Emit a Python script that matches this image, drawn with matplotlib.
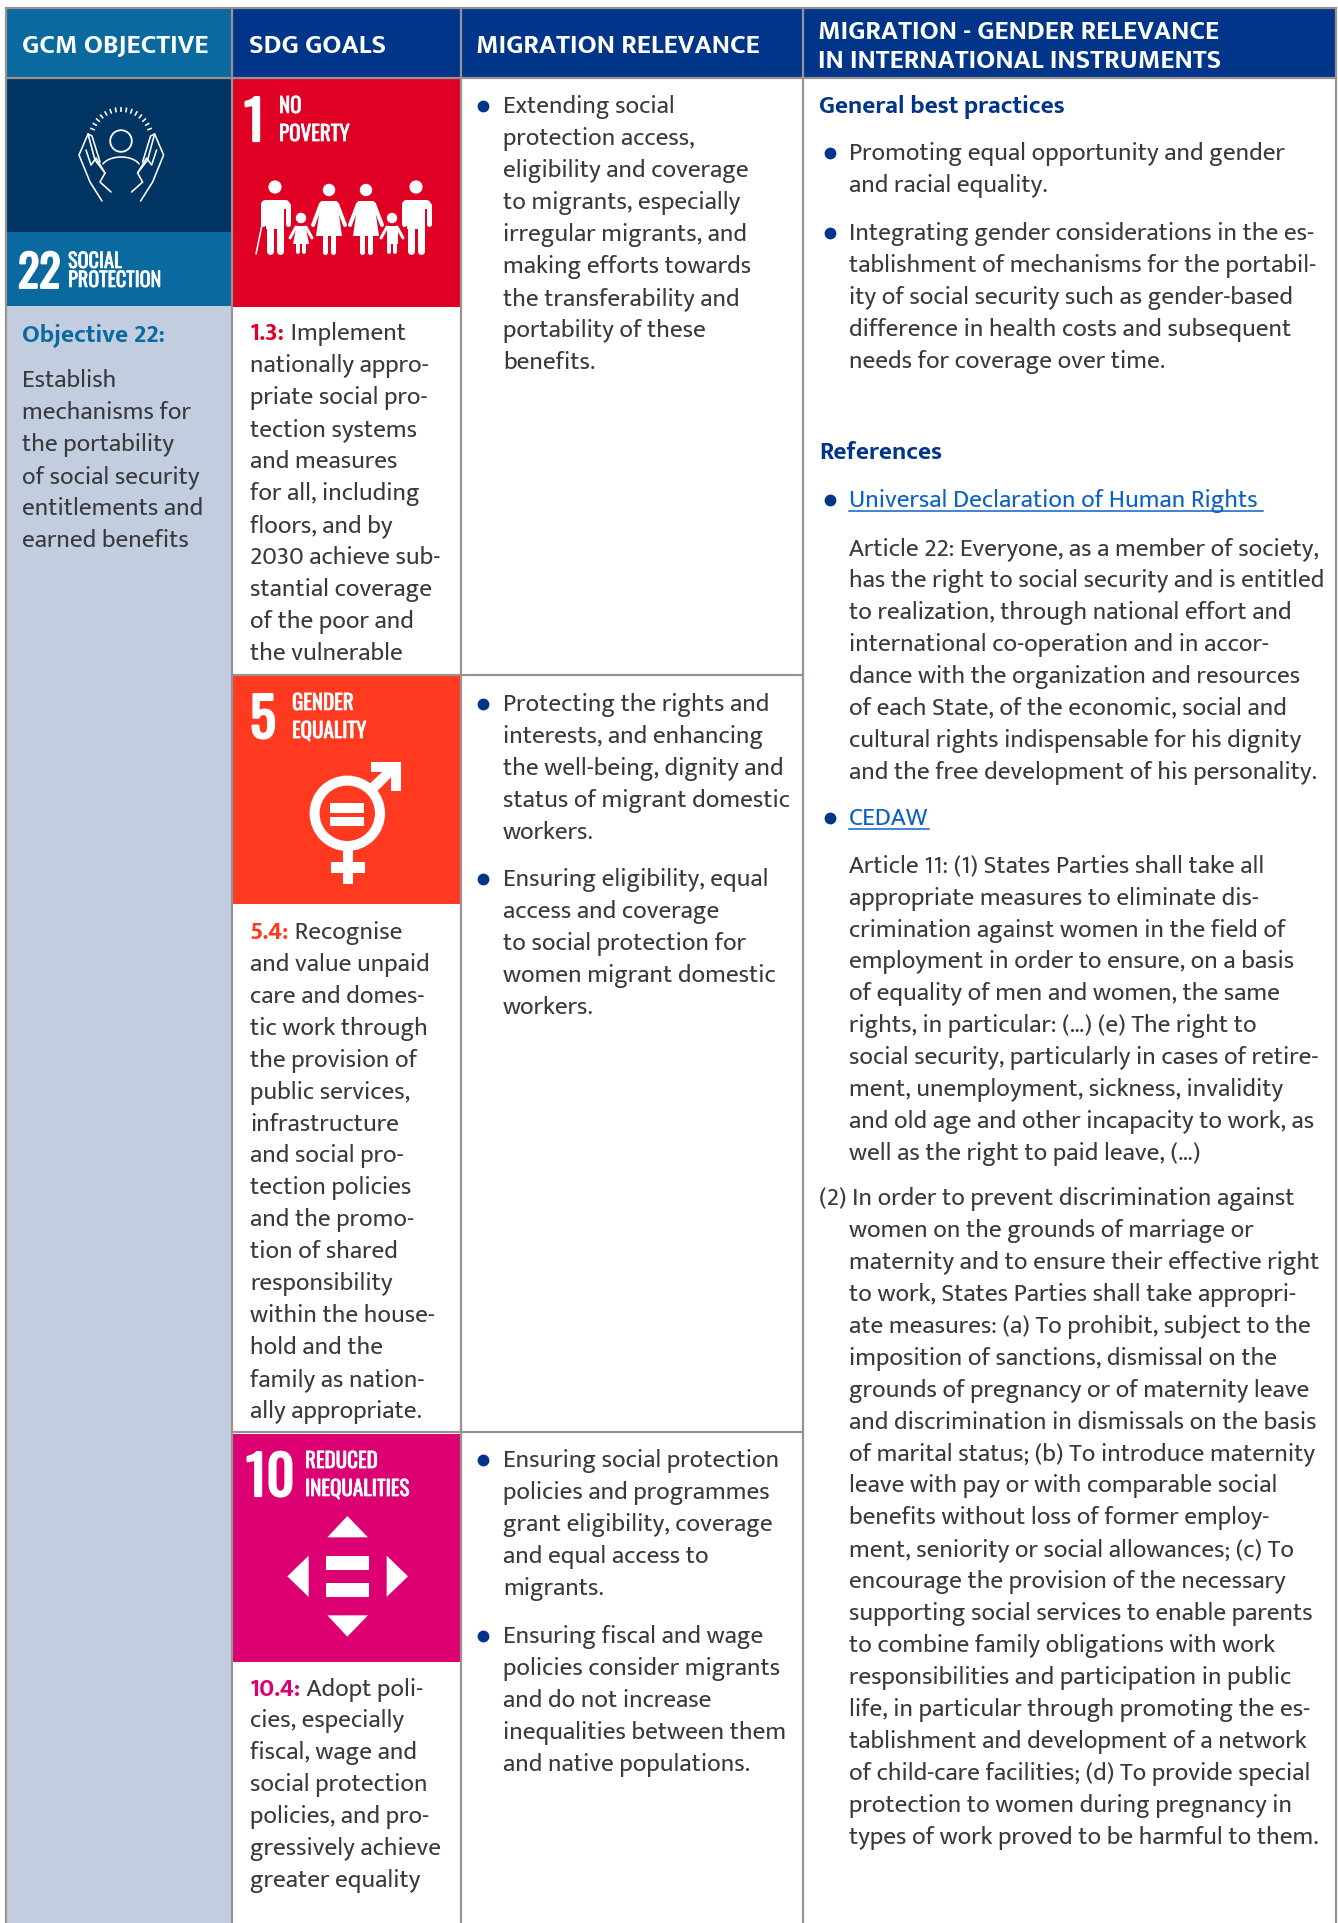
import matplotlib
matplotlib.use("Agg")
import matplotlib.pyplot as plt
from matplotlib.patches import Rectangle, Circle, Polygon
from matplotlib.patheffects import withStroke
import numpy as np

W, H = 1338, 1923
S = 1338 / 1091  # the line positions below

BODY_FONT = ["Mukta", "Lato"]
NARROW_FONT = ["Oswald", "Roboto"]

TEAL = "#0a6a9f"
BLUE = "#00358a"
NAVY = "#003463"
PALE = "#c3cde0"
RED = "#e00024"
ORANGE = "#ff3a21"
PINK = "#dc0073"
GREY = "#9a928e"
INK = "#3a3a3a"
LINK = "#0b62c4"

# ---- table text ----
headers = ["GCM OBJECTIVE", "SDG GOALS", "MIGRATION RELEVANCE"]
header_last = ["MIGRATION - GENDER RELEVANCE", "IN INTERNATIONAL INSTRUMENTS"]

objective_title = "Objective 22:"
objective_lines = ["Establish", "mechanisms for", "the portability", "of social security",
                   "entitlements and", "earned benefits"]

target_1 = ["1.3:", " Implement", "nationally appro-", "priate social pro-", "tection systems",
            "and measures", "for all, including", "floors, and by", "2030 achieve sub-",
            "stantial coverage", "of the poor and", "the vulnerable"]
target_5 = ["5.4:", " Recognise", "and value unpaid", "care and domes-", "tic work through",
            "the provision of", "public services,", "infrastructure", "and social pro-",
            "tection policies", "and the promo-", "tion of shared", "responsibility",
            "within the house-", "hold and the", "family as nation-", "ally appropriate."]
target_10 = ["10.4:", " Adopt poli-", "cies, especially", "fiscal, wage and", "social protection",
             "policies, and pro-", "gressively achieve", "greater equality"]

relevance_1 = [["Extending social", "protection access,", "eligibility and coverage",
                "to migrants, especially", "irregular migrants, and", "making efforts towards",
                "the transferability and", "portability of these", "benefits."]]
relevance_5 = [["Protecting the rights and", "interests, and enhancing", "the well-being, dignity and",
                "status of migrant domestic", "workers."],
               ["Ensuring eligibility, equal", "access and coverage", "to social protection for",
                "women migrant domestic", "workers."]]
relevance_10 = [["Ensuring social protection", "policies and programmes", "grant eligibility, coverage",
                 "and equal access to", "migrants."],
                ["Ensuring fiscal and wage", "policies consider migrants", "and do not increase",
                 "inequalities between them", "and native populations."]]

practices_title = "General best practices"
practices = [["Promoting equal opportunity and gender", "and racial equality."],
             ["Integrating gender considerations in the es-", "tablishment of mechanisms for the portabil-",
              "ity of social security such as gender-based", "difference in health costs and subsequent",
              "needs for coverage over time."]]
references_title = "References"
udhr_link = "Universal Declaration of Human Rights "
udhr_text = ["Article 22: Everyone, as a member of society,", "has the right to social security and is entitled",
             "to realization, through national effort and", "international co-operation and in accor-",
             "dance with the organization and resources", "of each State, of the economic, social and",
             "cultural rights indispensable for his dignity", "and the free development of his personality."]
cedaw_link = "CEDAW"
cedaw_text = ["Article 11: (1) States Parties shall take all", "appropriate measures to eliminate dis-",
              "crimination against women in the field of", "employment in order to ensure, on a basis",
              "of equality of men and women, the same", "rights, in particular: (\u2026) (e) The right to",
              "social security, particularly in cases of retire-", "ment, unemployment, sickness, invalidity",
              "and old age and other incapacity to work, as", "well as the right to paid leave, (\u2026)"]
cedaw_first = "(2) In order to prevent discrimination against"
cedaw_rest = ["women on the grounds of marriage or", "maternity and to ensure their effective right",
              "to work, States Parties shall take appropri-", "ate measures: (a) To prohibit, subject to the",
              "imposition of sanctions, dismissal on the", "grounds of pregnancy or of maternity leave",
              "and discrimination in dismissals on the basis", "of marital status; (b) To introduce maternity",
              "leave with pay or with comparable social", "benefits without loss of former employ-",
              "ment, seniority or social allowances; (c) To", "encourage the provision of the necessary",
              "supporting social services to enable parents", "to combine family obligations with work",
              "responsibilities and participation in public", "life, in particular through promoting the es-",
              "tablishment and development of a network", "of child-care facilities; (d) To provide special",
              "protection to women during pregnancy in", "types of work proved to be harmful to them."]

# ---- layout ----
COLS = [6, 232, 461, 803, 1336]
HEAD_TOP, HEAD_BOT = 8, 78
ROWS = [79, 675, 1432]
TILE = 228
BODY = 18.2
HEAD = 19.6

fig = plt.figure(figsize=(W / 100, H / 100), dpi=100, facecolor="white")
ax = fig.add_axes([0, 0, 1, 1])
ax.set_xlim(0, W)
ax.set_ylim(H, 0)
ax.axis("off")


def rect(x0, y0, x1, y1, color, z=1):
    ax.add_patch(Rectangle((x0, y0), x1 - x0, y1 - y0, facecolor=color, edgecolor="none", zorder=z))


def poly(pts, color="white", ox=0, oy=0, k=1 / 3):
    pts = [(ox + a * k, oy + b * k) for a, b in pts]
    ax.add_patch(Polygon(pts, closed=True, facecolor=color, edgecolor="none", zorder=4))


def stroke(xs, ys, px, color="white", cap="round"):
    ax.plot(xs, ys, color=color, lw=px * 0.72, solid_capstyle=cap, solid_joinstyle="round", zorder=4)


def txt(x, y, s, color=INK, size=BODY, weight="normal", family=BODY_FONT, **kw):
    return ax.text(x, y, s, color=color, fontsize=size, fontweight=weight, family=family,
                   va="baseline", ha="left", zorder=5, **kw)


def narrow(x, y, s, size, heavy):
    # Oswald only comes in its regular cut here, a thin outline brings it up to the bold look
    t = txt(x, y, s, "white", size, "bold", NARROW_FONT)
    t.set_path_effects([withStroke(linewidth=heavy, foreground="white")])


def lines(x, center, rows, **kw):
    for i, s in enumerate(rows):
        txt(x, (center + i * 26.05) * S + 8, s, **kw)


def bullet(x, center):
    ax.plot([x], [center * S + 1], "o", color=BLUE, ms=8.5, mew=0, zorder=5)


def bullets(bx, tx, center, blocks, gap=39):
    c = center
    for block in blocks:
        bullet(bx, c)
        lines(tx, c, block)
        c += (len(block) - 1) * 26.05 + gap


def target(x, center, rows, color):
    head = txt(x, center * S + 8, rows[0], color=color, weight="bold")
    fig.canvas.draw()
    end = head.get_window_extent().x1
    txt(end, center * S + 8, rows[1])
    lines(x, center + 26.05, rows[2:])


def goal_tile(y, color, num, num_x, label, label_x):
    rect(COLS[1] + 1, y, COLS[2] - 1, y + TILE, color, 2)
    narrow(num_x, y + 62, num, 39, 1.6)
    narrow(label_x, y + 34, label[0], 15.2, 0.5)
    narrow(label_x, y + 62, label[1], 15.2, 0.5)


def man(cx, top):
    ax.add_patch(Circle((cx, top), 6.6, facecolor="white", edgecolor="none", zorder=4))
    stroke([cx - 10, cx + 10], [top + 17, top + 17], 9)
    rect(cx - 9, top + 14, cx + 9, top + 42, "white", 4)
    stroke([cx - 12.5, cx - 12.5], [top + 18, top + 37], 5)
    stroke([cx + 12.5, cx + 12.5], [top + 18, top + 37], 5)
    stroke([cx - 5, cx - 5], [top + 40, top + 64], 7)
    stroke([cx + 5, cx + 5], [top + 40, top + 64], 7)


def woman(cx, top):
    ax.add_patch(Circle((cx, top), 6.2, facecolor="white", edgecolor="none", zorder=4))
    poly([(cx - 8, top + 11), (cx + 8, top + 11), (cx + 13, top + 46), (cx - 13, top + 46)], k=1)
    stroke([cx - 8, cx - 16], [top + 14, top + 35], 4)
    stroke([cx + 8, cx + 16], [top + 14, top + 35], 4)
    stroke([cx - 4, cx - 4], [top + 46, top + 62], 5)
    stroke([cx + 4, cx + 4], [top + 46, top + 62], 5)


def child(cx, top, dress):
    ax.add_patch(Circle((cx, top), 5.2, facecolor="white", edgecolor="none", zorder=4))
    if dress:
        poly([(cx - 4.5, top + 8), (cx + 4.5, top + 8), (cx + 8, top + 26), (cx - 8, top + 26)], k=1)
    else:
        rect(cx - 5.5, top + 8, cx + 5.5, top + 26, "white", 4)
    stroke([cx - 5, cx - 11], [top + 9, top + 20], 3)
    stroke([cx + 5, cx + 11], [top + 9, top + 20], 3)
    stroke([cx - 3, cx - 3], [top + 25, top + 34], 4)
    stroke([cx + 3, cx + 3], [top + 25, top + 34], 4)


# ---- backgrounds ----
rect(COLS[0], HEAD_TOP, COLS[1], HEAD_BOT, TEAL)
rect(COLS[1], HEAD_TOP, COLS[4], HEAD_BOT, BLUE)
rect(COLS[0], ROWS[0], COLS[1], 232, NAVY)
rect(COLS[0], 232, COLS[1], 306, TEAL)
rect(COLS[0], 306, COLS[1], H, PALE)

# grid lines
for x in COLS:
    ax.plot([x, x], [HEAD_TOP, H], color=GREY, lw=1.6, zorder=6, solid_capstyle="butt")
ax.plot([COLS[0], COLS[4]], [HEAD_TOP, HEAD_TOP], color=GREY, lw=1.6, zorder=6)
ax.plot([COLS[0], COLS[4]], [HEAD_BOT, HEAD_BOT], color=GREY, lw=1.6, zorder=6)
ax.plot([COLS[1], COLS[3]], [ROWS[1], ROWS[1]], color=GREY, lw=1.6, zorder=6)
ax.plot([COLS[1], COLS[3]], [ROWS[2], ROWS[2]], color=GREY, lw=1.6, zorder=6)

# ---- header ----
for x, s in zip([22, 249, 476], headers):
    txt(x, 53, s, "white", HEAD, "bold")
txt(818, 39, header_last[0], "white", HEAD, "bold")
txt(818, 68, header_last[1], "white", HEAD, "bold")

# ---- objective column ----
rays = np.radians(np.linspace(21, 159, 15))
for a in rays:
    stroke([121 + 28 * np.cos(a), 121 + 33 * np.cos(a)],
           [140 - 28 * np.sin(a), 140 - 33 * np.sin(a)], 1.6, cap="butt")
ax.add_patch(Circle((121, 141), 10.8, facecolor="none", edgecolor="white", lw=1.3, zorder=4))
hand_out = [(88, 134), (79, 155), (90, 182), (102, 201)]
hand_in = [(88, 134), (95, 160), (105, 173), (100, 182), (111, 192)]
finger_a = [(88, 134), (92, 136), (100, 162)]
finger_b = [(86, 150), (91, 165), (96, 158), (105, 173)]
for path in [hand_out, hand_in, finger_a, finger_b]:
    xs, ys = zip(*path)
    stroke(xs, ys, 1.6)
    stroke([242.6 - v for v in xs], ys, 1.6)
arc = np.radians(np.linspace(25, 155, 20))
stroke(121 + 20 * np.cos(arc), 169 - 12 * np.sin(arc), 1.6)

narrow(18, 288, "22", 32, 1.4)
narrow(68, 268, "SOCIAL", 14.6, 0.4)
narrow(68, 287, "PROTECTION", 14.6, 0.4)
txt(22, 272 * S + 8, objective_title, TEAL, BODY, "bold")
lines(22, 309, objective_lines)

# ---- SDG tiles ----
goal_tile(ROWS[0], RED, "1", 244, ["NO", "POVERTY"], 279)
goal_tile(ROWS[1] + 1, ORANGE, "5", 250, ["GENDER", "EQUALITY"], 292)
goal_tile(ROWS[2] + 2, PINK, "10", 246, ["REDUCED", "INEQUALITIES"], 305)

# family pictogram
man(275, 187)
child(301, 218, True)
woman(329, 190)
woman(366, 190)
child(392, 218, False)
man(416, 187)
stroke([263, 256], [220, 254], 1.6)

# gender symbol
ox, oy = 230, 660
ax.add_patch(Circle((347.3, 813.3), 32.7, facecolor="none", edgecolor="white", lw=10 * 0.72, zorder=4))
for b in [(428, 458), (470, 498)]:
    poly([(300, b[0]), (403, b[0]), (403, b[1]), (300, b[1])], ox=ox, oy=oy)
poly([(338, 570), (370, 570), (370, 672), (338, 672)], ox=ox, oy=oy)
poly([(302, 607), (405, 607), (405, 640), (302, 640)], ox=ox, oy=oy)
poly([(423, 305), (513, 305), (513, 393), (482, 393), (482, 337), (423, 337)], ox=ox, oy=oy)
poly([(418, 372), (482, 312), (500, 335), (440, 395)], ox=ox, oy=oy)

# equality arrows
ox, oy = 230, 1420
poly([(352, 288), (292, 352), (414, 352)], ox=ox, oy=oy)
poly([(236, 407), (172, 469), (236, 531)], ox=ox, oy=oy)
poly([(470, 407), (534, 469), (470, 531)], ox=ox, oy=oy)
poly([(292, 586), (414, 586), (352, 650)], ox=ox, oy=oy)
poly([(288, 407), (418, 407), (418, 449), (288, 449)], ox=ox, oy=oy)
poly([(288, 490), (418, 490), (418, 531), (288, 531)], ox=ox, oy=oy)

# targets
target(250, 271, target_1, RED)
target(250, 759, target_5, ORANGE)
target(250, 1376, target_10, PINK)

# ---- relevance ----
bullets(483, 503, 86, relevance_1)
bullets(483, 503, 573, relevance_5)
bullets(483, 503, 1190, relevance_10)

# ---- instruments ----
txt(819, 86 * S + 8, practices_title, BLUE, BODY, "bold")
bullets(830, 849, 124, practices)
txt(819, 368 * S + 8, references_title, BLUE, BODY, "bold")


def link(x, center, s):
    t = txt(x, center * S + 8, s, LINK)
    fig.canvas.draw()
    box = t.get_window_extent()
    y = center * S + 12
    ax.plot([box.x0, box.x1], [y, y], color=LINK, lw=1.1, zorder=5)


bullet(830, 407)
link(849, 407, udhr_link)
lines(849, 446, udhr_text)
bullet(830, 666)
link(849, 666, cedaw_link)
lines(849, 705, cedaw_text)
txt(819, 976 * S + 8, cedaw_first)
lines(849, 1002, cedaw_rest)

fig.savefig("out.png", dpi=100, facecolor="white")
